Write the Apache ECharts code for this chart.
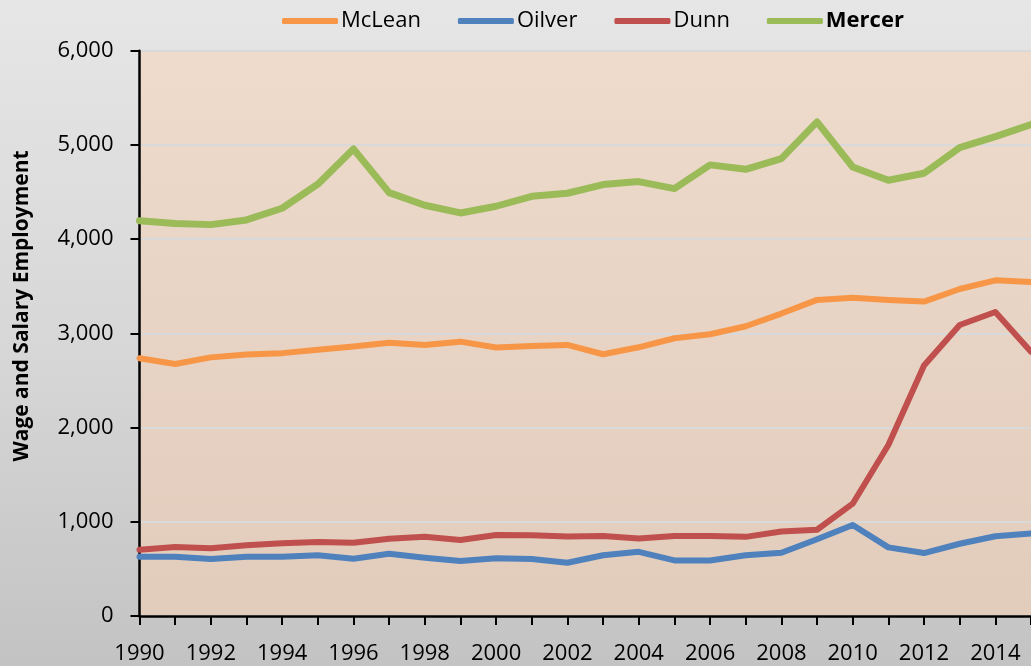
<!DOCTYPE html>
<html>
<head>
<meta charset="utf-8">
<script src="https://cdn.jsdelivr.net/npm/echarts@6/dist/echarts.min.js"></script>
<style>
  html, body { margin: 0; padding: 0; }
  body { background: linear-gradient(to bottom, #e6e6e6 0%, #d6d6d6 55%, #c3c3c3 100%); }
  #chart { width: 1031px; height: 666px; }
</style>
</head>
<body>
<div id="chart"></div>
<script>
  var years = [];
  for (var y = 1990; y <= 2015; y++) years.push(String(y));

  var mclean = [2735, 2675, 2745, 2775, 2790, 2825, 2860, 2900, 2877, 2912, 2850, 2866,
                2877, 2778, 2852, 2948, 2990, 3075, 3210, 3355, 3379, 3355, 3337, 3471, 3563, 3546];
  var oilver = [630, 630, 605, 630, 630, 644, 608, 661, 619, 584, 612, 605,
                565, 645, 681, 590, 590, 645, 671, 814, 966, 728, 668, 767, 847, 876];
  var dunn   = [704, 732, 718, 750, 771, 785, 778, 821, 842, 807, 860, 858,
                845, 850, 822, 850, 850, 840, 897, 915, 1192, 1815, 2658, 3089, 3227, 2806];
  var mercer = [4196, 4165, 4154, 4204, 4328, 4583, 4957, 4494, 4360, 4278, 4349, 4455,
                4487, 4579, 4611, 4536, 4788, 4741, 4855, 5244, 4766, 4625, 4699, 4971, 5088, 5216];

  var yTicks = [0, 1000, 2000, 3000, 4000, 5000, 6000];

  var font = '"Open Sans", "Liberation Sans", sans-serif';
  var chart = echarts.init(document.getElementById('chart'));

  function line(name, data, color, width) {
    return {
      name: name, type: 'line', data: data, symbol: 'none',
      lineStyle: { color: color, width: width, cap: 'round', join: 'round' },
      itemStyle: { color: color }
    };
  }

  chart.setOption({
    animation: false,
    textStyle: { fontFamily: font },
    grid: {
      left: 139.5, right: 0, top: 50.7, bottom: 50,
      show: true, borderWidth: 0,
      backgroundColor: new echarts.graphic.LinearGradient(0, 0, 0, 1, [
        { offset: 0, color: '#eedbcc' },
        { offset: 1, color: '#e2ccbc' }
      ])
    },
    legend: {
      top: 5, left: 277,
      itemWidth: 56, itemHeight: 6, itemGap: 37,
      icon: 'roundRect',
      textStyle: {
        fontSize: 22, color: '#000', padding: [0, 0, 0, -2],
        rich: { b: { fontSize: 22, fontWeight: 'bold', color: '#000' } }
      },
      formatter: function (n) { return n === 'Mercer' ? '{b|Mercer}' : n; },
      data: ['McLean', 'Oilver', 'Dunn', 'Mercer']
    },
    graphic: [{
      type: 'text', x: 22, y: 306, rotation: Math.PI / 2,
      style: {
        text: 'Wage and Salary Employment', fontFamily: font,
        fontSize: 21, fontWeight: 'bold', fill: '#000',
        align: 'center', verticalAlign: 'middle'
      }
    }],
    xAxis: {
      type: 'category', data: years, boundaryGap: false,
      axisLine: { lineStyle: { color: '#000', width: 2.5 } },
      axisTick: { show: true, interval: 0, length: 9, lineStyle: { color: '#000', width: 2 } },
      axisLabel: { interval: 1, fontSize: 22, color: '#000', margin: 27 },
      splitLine: { show: false }
    },
    yAxis: {
      type: 'value', min: yTicks[0], max: yTicks[yTicks.length - 1], interval: 1000,
      axisLine: { show: true, lineStyle: { color: '#000', width: 2.5 } },
      axisTick: { show: true, length: 9, lineStyle: { color: '#000', width: 2 } },
      axisLabel: {
        fontSize: 22, color: '#000', margin: 26,
        formatter: function (v) { return v.toLocaleString('en-US'); }
      },
      splitLine: { lineStyle: { color: '#d9d9d9', width: 2 } }
    },
    series: [
      line('McLean', mclean, '#f79646', 6),
      line('Oilver', oilver, '#4f81bd', 6),
      line('Dunn', dunn, '#c0504d', 6),
      line('Mercer', mercer, '#9bbb59', 7)
    ]
  });
</script>
</body>
</html>
